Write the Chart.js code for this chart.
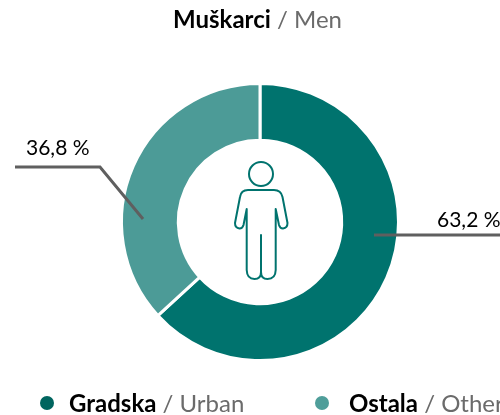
<!DOCTYPE html>
<html><head><meta charset="utf-8">
<style>html,body{margin:0;padding:0;background:#fff}#w{width:500px;height:415px;position:relative}</style>
<script src="https://cdn.jsdelivr.net/npm/chart.js@4"></script>
</head><body><div id="w"><canvas id="c" width="500" height="415"></canvas></div>
<script>
const categoriesLocal = ['Gradska','Ostala'];
const categoriesEnglish = ['Urban','Other'];
const values = [63.2,36.8];
const valueLabels = ['63,2 %','36,8 %'];
const colors = ['#00736e','#4c9b97'];
const legendColors = ['#00655f','#4f9e9a'];
const titleLocal = 'Muškarci';
const titleEnglish = 'Men';
const FONT = 'Lato, sans-serif';

function mixed(ctx,x,y,bold,reg,size,center){
  ctx.textBaseline='alphabetic';ctx.textAlign='left';
  ctx.font='bold '+size+'px '+FONT;const w1=ctx.measureText(bold).width;
  ctx.font=size+'px '+FONT;const rest=' / '+reg;const w2=ctx.measureText(rest).width;
  const sx=center?x-(w1+w2)/2:x;
  ctx.font='bold '+size+'px '+FONT;ctx.fillStyle='#000';ctx.fillText(bold,sx,y);
  ctx.font=size+'px '+FONT;ctx.fillStyle='#6b6b6b';ctx.fillText(rest,sx+w1,y);
}
const decor={id:'decor',afterDatasetsDraw(chart){
  const ctx=chart.ctx,arc=chart.getDatasetMeta(0).data[0];
  const cx=arc.x,cy=arc.y;
  ctx.save();
  ctx.strokeStyle='#5f5f5f';ctx.lineWidth=3;ctx.lineJoin='miter';
  ctx.beginPath();ctx.moveTo(cx+114,cy+13);ctx.lineTo(500,cy+13);ctx.stroke();
  ctx.beginPath();ctx.moveTo(cx-117,cy-3);ctx.lineTo(cx-160,cy-55);ctx.lineTo(15,cy-55);ctx.stroke();
  ctx.fillStyle='#000';ctx.font='21px '+FONT;ctx.textAlign='left';ctx.textBaseline='alphabetic';
  ctx.fillText(valueLabels[0],437,cy+5);
  ctx.fillText(valueLabels[1],26,cy-67);
  mixed(ctx,257.5,28,titleLocal,titleEnglish,24,true);
  [[47,69],[322,349]].forEach((p,i)=>{
    ctx.fillStyle=legendColors[i];ctx.beginPath();ctx.arc(p[0],403,7,0,Math.PI*2);ctx.fill();
    mixed(ctx,p[1],412,categoriesLocal[i],categoriesEnglish[i],24,false);
  });
  ctx.strokeStyle='#00736e';ctx.lineWidth=2;ctx.lineJoin='round';ctx.lineCap='round';
  ctx.translate(cx-260,cy-222);
  ctx.beginPath();ctx.arc(261,174,12,0,Math.PI*2);ctx.stroke();
  const s=new Path2D('M246.7 209 L243.5 225 Q242.5 228.5 239.5 228.5 Q235 228 235 223 L240 197 Q241 190 248 190 L274 190 Q281 190 282.5 197 L287.5 223 Q287.5 228 283 228.5 Q280 228.5 279 225 L275.7 209 L275.7 270 Q275.5 279 267.5 279 Q261 279 261 272 Q261 279 254.5 279 Q247 279 246.7 270 Z M261 235 L261 272');
  ctx.stroke(s);
  ctx.restore();
}};
new Chart(document.getElementById('c'),{
  type:'doughnut',
  data:{labels:categoriesLocal,datasets:[{data:values,backgroundColor:colors,borderColor:'#fff',borderWidth:3,hoverOffset:0}]},
  options:{responsive:false,animation:false,cutout:'59%',rotation:0,
    layout:{padding:{left:20,right:0,top:82,bottom:53}},
    plugins:{legend:{display:false},tooltip:{enabled:false},title:{display:false}}},
  plugins:[decor]
});
</script></body></html>
